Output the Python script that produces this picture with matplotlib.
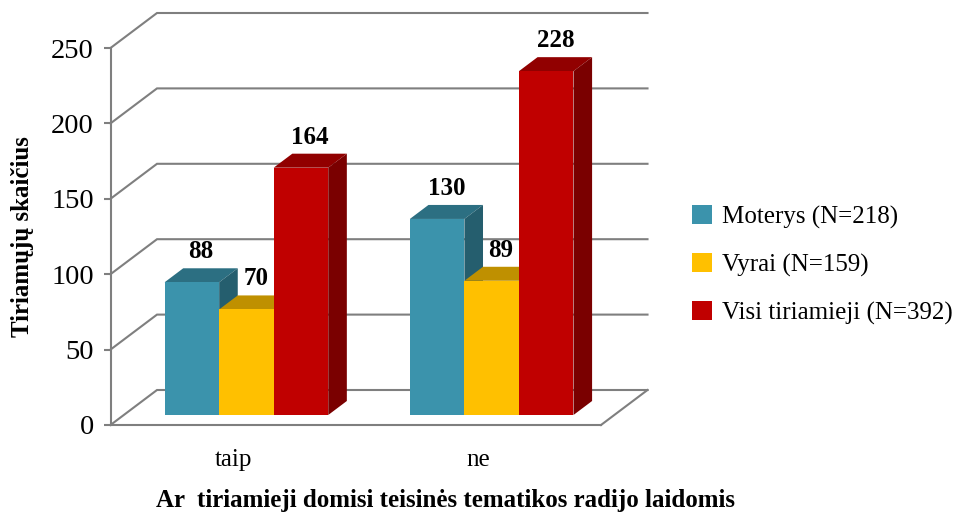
import matplotlib
matplotlib.use("Agg")
import matplotlib.pyplot as plt
from matplotlib.patches import Polygon, Patch

categories = ["taip", "ne"]
series_names = ["Moterys (N=218)", "Vyrai (N=159)", "Visi tiriamieji (N=392)"]
moterys = [88, 130]
vyrai = [70, 89]
visi = [164, 228]
y_ticks = [0, 50, 100, 150, 200, 250]
x_title = "Ar  tiriamieji domisi teisinės tematikos radijo laidomis"
y_title = "Tiriamųjų skaičius"

front_colors = ["#3B93AC", "#FFC000", "#C00000"]
top_colors = ["#2C6F82", "#BF9000", "#910000"]
side_colors = ["#255E6E", "#A67D00", "#7A0000"]
GRAY = "#7F7F7F"
FONT = "Liberation Serif"

W, H = 968, 516
fig = plt.figure(figsize=(W / 100, H / 100), dpi=100)
L, R, T, B = 110.5, 601.0, 48.0, 425.0
ax = fig.add_axes([L / W, 1 - B / H, (R - L) / W, (B - T) / H], facecolor="none")
ax.set_xlim(-0.5, 1.5)
ax.set_ylim(0, 250)

PX_X = (R - L) / 2.0
PX_Y = (B - T) / 250.0
DX = 46.5 / PX_X       # oblique shift of full chart depth, data units
DY = 35.0 / PX_Y


def proj(x, v, d):
    return (x + d * DX, v + d * DY)


# walls and floor
for v in y_ticks:
    p = proj(1.5, v, 1)
    q = proj(-0.5, v, 1)
    ax.plot([-0.5, q[0], p[0]], [v, q[1], p[1]], color=GRAY, lw=1.5,
            clip_on=False, zorder=1, solid_joinstyle="miter")
fr = proj(1.5, 0, 1)
ax.plot([1.5, fr[0]], [0, fr[1]], color=GRAY, lw=1.5, clip_on=False, zorder=1)

# bars
D0, D1 = 0.286, 0.686
BW = 0.2224
all_values = [moterys, vyrai, visi]
z = 3
label_h = []
for c in range(len(categories)):
    for s, vals in enumerate(all_values):
        v = vals[c]
        x0 = c + (s - 1.5) * BW
        x1 = x0 + BW
        a0, b0 = proj(x0, 0, D0), proj(x1, 0, D0)
        base = b0[1]
        xs = x0 + D0 * DX
        xe = x1 + D0 * DX
        tl = (xs, base + v)
        tr = (xe, base + v)
        shift = ((D1 - D0) * DX, (D1 - D0) * DY)
        tl2 = (xs + shift[0], base + v + shift[1])
        tr2 = (xe + shift[0], base + v + shift[1])
        br = (xe, base)
        br2 = (xe + shift[0], base + shift[1])
        ax.add_patch(Polygon([tl, tr, tr2, tl2], closed=True, fc=top_colors[s], ec="none",
                             clip_on=False, zorder=z))
        ax.add_patch(Polygon([tr, tr2, br2, br], closed=True, fc=side_colors[s], ec="none",
                             clip_on=False, zorder=z))
        bar = ax.bar(xs + BW / 2, v, BW, bottom=base, color=front_colors[s], lw=0,
                     clip_on=False, zorder=z + 0.5)
        z += 1
        ax.annotate(str(v), xy=((xs + xe) / 2 + shift[0] / 2, tl2[1]), xytext=(0, 16.5 * 0.72),
                    textcoords="offset points", ha="center", va="center",
                    fontfamily=FONT, fontsize=18, fontweight="bold", color="black",
                    zorder=100, annotation_clip=False)

# axes
for side in ["top", "right"]:
    ax.spines[side].set_visible(False)
for side in ["left", "bottom"]:
    ax.spines[side].set_color(GRAY)
    ax.spines[side].set_linewidth(1.5)
    ax.spines[side].set_zorder(2)
ax.set_yticks(y_ticks)
ax.set_xticks(range(len(categories)), categories)
ax.tick_params(axis="y", length=5, width=1.5, color=GRAY, pad=7)
ax.tick_params(axis="x", length=0, pad=17)
for t in ax.get_yticklabels():
    t.set_fontfamily(FONT)
    t.set_fontsize(20.5)
for t in ax.get_xticklabels():
    t.set_fontfamily(FONT)
    t.set_fontsize(18)

fig.text(445 / W, 1 - 501 / H, x_title, ha="center", va="center",
         fontfamily=FONT, fontsize=18, fontweight="bold")
fig.text(23 / W, 1 - 237 / H, y_title, rotation=90, ha="center", va="center",
         fontfamily=FONT, fontsize=18, fontweight="bold")

handles = [Patch(fc=c, ec="none") for c in front_colors]
fig.legend(handles, series_names, loc="center left", bbox_to_anchor=(692 / W, 1 - 265 / H),
           frameon=False, prop={"family": FONT, "size": 18}, handlelength=0.78,
           handleheight=0.78, handletextpad=0.42, labelspacing=0.98, borderpad=0, borderaxespad=0)

fig.savefig("out.png", dpi=100)
